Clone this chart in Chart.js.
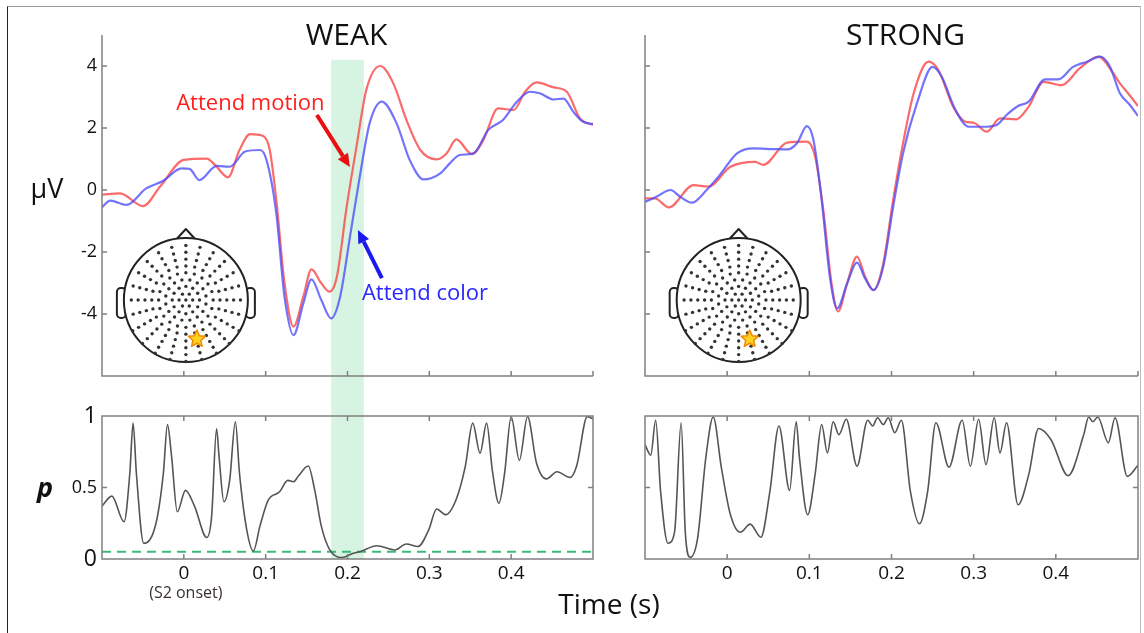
<!DOCTYPE html>
<html>
<head>
<meta charset="utf-8">
<title>Weak vs strong</title>
<script src="https://cdn.jsdelivr.net/npm/chart.js@4.4.0/dist/chart.umd.min.js"></script>
<style>
  body { margin: 0; background: #fff; }
  #fig { position: relative; width: 1144px; height: 633px; overflow: hidden; }
  #fig canvas { position: absolute; left: 0; top: 0; }
  #frame { position: absolute; left: 7px; top: 6px; width: 1132px; height: 640px;
           border-top: 1.5px solid #9a9a9a; border-left: 1.5px solid #222; border-right: 1.5px solid #bbb; }
</style>
</head>
<body>
<div id="fig">
  <div id="frame"></div>
  <canvas id="pWeak" width="1144" height="633"></canvas>
  <canvas id="pStrong" width="1144" height="633"></canvas>
  <canvas id="erpWeak" width="1144" height="633"></canvas>
  <canvas id="erpStrong" width="1144" height="633"></canvas>
</div>
<script>
// ---- data (time in s) ----
var weakMotionT = [-0.1, -0.078, -0.05, -0.029, 0.0, 0.028, 0.038, 0.054, 0.068, 0.081, 0.097, 0.105, 0.113, 0.123, 0.134, 0.146, 0.156, 0.168, 0.178, 0.187, 0.199, 0.211, 0.223, 0.24, 0.256, 0.272, 0.289, 0.309, 0.321, 0.333, 0.352, 0.366, 0.384, 0.403, 0.417, 0.431, 0.452, 0.468, 0.484, 0.5];
var weakMotionV = [-0.15, -0.11, -0.52, 0.11, 0.97, 1.01, 0.81, 0.41, 1.29, 1.80, 1.74, 1.29, -0.32, -3.0, -4.41, -3.44, -2.56, -3.01, -3.28, -2.80, -0.54, 1.40, 3.23, 4.0, 3.44, 2.26, 1.29, 0.99, 1.18, 1.63, 1.16, 1.61, 2.63, 2.58, 3.17, 3.47, 3.31, 3.17, 2.31, 2.10];

var weakColorT = [-0.1, -0.09, -0.07, -0.046, -0.025, -0.003, 0.007, 0.019, 0.04, 0.056, 0.075, 0.093, 0.101, 0.113, 0.123, 0.134, 0.146, 0.156, 0.168, 0.18, 0.191, 0.203, 0.215, 0.227, 0.242, 0.26, 0.276, 0.293, 0.313, 0.325, 0.337, 0.354, 0.372, 0.39, 0.407, 0.423, 0.435, 0.452, 0.464, 0.476, 0.488, 0.5];
var weakColorV = [-0.56, -0.34, -0.48, 0.05, 0.30, 0.70, 0.68, 0.32, 0.78, 0.75, 1.24, 1.29, 0.97, -0.75, -3.44, -4.68, -3.66, -2.88, -3.55, -4.14, -3.44, -1.51, 0.43, 2.15, 2.85, 2.15, 0.97, 0.34, 0.53, 0.86, 1.13, 1.18, 1.94, 2.26, 2.85, 3.17, 3.12, 2.92, 2.95, 2.52, 2.20, 2.13];

var strongMotionT = [-0.1, -0.088, -0.071, -0.041, -0.023, 0.004, 0.034, 0.044, 0.073, 0.097, 0.107, 0.117, 0.127, 0.135, 0.146, 0.158, 0.168, 0.178, 0.19, 0.202, 0.214, 0.227, 0.245, 0.257, 0.275, 0.29, 0.30, 0.316, 0.332, 0.352, 0.367, 0.385, 0.407, 0.429, 0.452, 0.47, 0.478, 0.49, 0.5];
var strongMotionV = [-0.27, -0.27, -0.56, 0.16, 0.11, 0.75, 0.91, 0.81, 1.53, 1.56, 1.08, -0.65, -3.01, -3.92, -3.01, -2.15, -2.8, -3.23, -2.37, -0.32, 1.5, 3.12, 4.14, 3.87, 2.69, 2.2, 2.17, 1.88, 2.31, 2.28, 2.69, 3.49, 3.38, 3.92, 4.30, 3.76, 3.44, 3.05, 2.71];

var strongColorT = [-0.1, -0.086, -0.069, -0.057, -0.043, -0.025, -0.009, 0.012, 0.032, 0.056, 0.073, 0.085, 0.097, 0.105, 0.115, 0.125, 0.134, 0.146, 0.158, 0.168, 0.178, 0.19, 0.202, 0.214, 0.231, 0.25, 0.261, 0.277, 0.294, 0.312, 0.328, 0.34, 0.354, 0.367, 0.387, 0.403, 0.421, 0.438, 0.454, 0.466, 0.478, 0.49, 0.5];
var strongColorV = [-0.38, -0.22, 0.0, -0.22, -0.41, 0.0, 0.48, 1.18, 1.34, 1.32, 1.31, 1.51, 2.06, 1.61, -0.32, -2.8, -3.82, -3.01, -2.34, -2.86, -3.23, -2.47, -0.54, 1.18, 2.8, 3.97, 3.66, 2.63, 2.04, 2.04, 2.1, 2.42, 2.71, 2.85, 3.57, 3.57, 3.97, 4.14, 4.3, 3.97, 3.12, 2.75, 2.39];

var weakPT = [-0.1, -0.088, -0.073, -0.066, -0.062, -0.058, -0.049, -0.034, -0.025, -0.02, -0.015, -0.008, 0.002, 0.013, 0.028, 0.034, 0.04, 0.043, 0.049, 0.056, 0.063, 0.068, 0.077, 0.085, 0.093, 0.103, 0.117, 0.127, 0.134, 0.14, 0.152, 0.16, 0.168, 0.178, 0.193, 0.207, 0.215, 0.236, 0.258, 0.272, 0.286, 0.299, 0.309, 0.32, 0.333, 0.344, 0.353, 0.362, 0.37, 0.377, 0.385, 0.392, 0.40, 0.41, 0.42, 0.431, 0.443, 0.456, 0.472, 0.48, 0.493, 0.5];
var weakP = [0.37, 0.44, 0.26, 0.60, 0.95, 0.60, 0.11, 0.25, 0.60, 0.94, 0.72, 0.33, 0.48, 0.37, 0.15, 0.30, 0.91, 0.72, 0.40, 0.55, 0.96, 0.60, 0.20, 0.056, 0.23, 0.41, 0.47, 0.55, 0.54, 0.58, 0.65, 0.48, 0.23, 0.068, 0.01, 0.04, 0.05, 0.093, 0.063, 0.105, 0.087, 0.20, 0.35, 0.31, 0.42, 0.65, 0.95, 0.74, 0.95, 0.62, 0.39, 0.60, 0.995, 0.69, 0.995, 0.67, 0.56, 0.61, 0.57, 0.65, 0.995, 0.98];

var strongPT = [-0.1, -0.093, -0.087, -0.081, -0.072, -0.064, -0.056, -0.051, -0.045, -0.036, -0.026, -0.017, -0.007, 0.004, 0.016, 0.028, 0.041, 0.052, 0.063, 0.076, 0.084, 0.088, 0.098, 0.107, 0.115, 0.122, 0.129, 0.136, 0.145, 0.158, 0.171, 0.177, 0.183, 0.19, 0.196, 0.204, 0.212, 0.223, 0.234, 0.244, 0.254, 0.27, 0.286, 0.296, 0.306, 0.315, 0.325, 0.332, 0.34, 0.354, 0.367, 0.379, 0.394, 0.415, 0.434, 0.44, 0.445, 0.451, 0.464, 0.472, 0.487, 0.5];
var strongP = [0.80, 0.726, 0.97, 0.473, 0.11, 0.19, 0.953, 0.19, 0.012, 0.145, 0.707, 0.993, 0.637, 0.309, 0.187, 0.244, 0.152, 0.473, 0.93, 0.48, 0.96, 0.707, 0.309, 0.59, 0.94, 0.742, 0.96, 0.87, 0.977, 0.649, 0.97, 0.93, 0.988, 0.94, 0.988, 0.883, 0.97, 0.473, 0.246, 0.473, 0.953, 0.642, 0.97, 0.649, 0.977, 0.66, 0.988, 0.742, 0.953, 0.379, 0.59, 0.913, 0.836, 0.583, 0.87, 0.993, 0.96, 0.993, 0.813, 0.988, 0.578, 0.656];

var xLabelTicks = [0, 0.1, 0.2, 0.3, 0.4];
var xTopTicks = [0, 0.1, 0.2, 0.3, 0.4, 0.5];
var erpTicks = [-4, -2, 0, 2, 4];
var pTicks = [0, 0.5, 1];
var alphaLevel = 0.05;
var sigWindow = [0.18, 0.22];   // shaded window (s)
var sigWindowTop = 4.2;         // top of shading, in µV of the upper panel

// ---- styling ----
var W = 1144, H = 633;
var axisGray = '#808080';
var red = 'rgba(250,70,70,0.8)';
var blue = 'rgba(80,80,250,0.8)';

Chart.defaults.font.family = '"Open Sans", sans-serif';
Chart.defaults.color = '#111';
Chart.defaults.animation = false;

function toXY(ts, vs) {
  return ts.map(function (t, i) { return { x: t, y: vs[i] }; });
}

function lineSet(data, color, width) {
  return { data: data, borderColor: color, borderWidth: width, pointRadius: 0,
           cubicInterpolationMode: 'monotone', fill: false };
}

// matlab style axis lines with inward ticks
var framePlugin = {
  id: 'frame',
  afterDatasetsDraw: function (chart, args, o) {
    var ctx = chart.ctx, a = chart.chartArea, x = chart.scales.x, y = chart.scales.y;
    ctx.save();
    ctx.strokeStyle = axisGray;
    ctx.lineWidth = 1.5;
    ctx.beginPath();
    if (o.box) {
      ctx.rect(a.left, a.top, a.right - a.left, a.bottom - a.top);
    } else {
      ctx.moveTo(a.left, a.top); ctx.lineTo(a.left, a.bottom); ctx.lineTo(a.right, a.bottom);
    }
    ctx.stroke();
    ctx.beginPath();
    var L = 5;
    o.xTicks.forEach(function (v) {
      var px = x.getPixelForValue(v);
      ctx.moveTo(px, a.bottom); ctx.lineTo(px, a.bottom - L);
      if (o.box) { ctx.moveTo(px, a.top); ctx.lineTo(px, a.top + L); }
    });
    o.yTicks.forEach(function (v) {
      var py = y.getPixelForValue(v);
      ctx.moveTo(a.left, py); ctx.lineTo(a.left + L, py);
      if (o.box) { ctx.moveTo(a.right, py); ctx.lineTo(a.right - L, py); }
    });
    ctx.stroke();
    ctx.restore();
  }
};

// shaded window, drawn on the lower canvas so it sits under the upper curves
var bandPlugin = {
  id: 'band',
  beforeDatasetsDraw: function (chart, args, o) {
    if (!o.upper) return;
    var up = o.upper();
    var ctx = chart.ctx, x = chart.scales.x;
    var x0 = x.getPixelForValue(sigWindow[0]), x1 = x.getPixelForValue(sigWindow[1]);
    var yTop = up.scales.y.getPixelForValue(sigWindowTop);
    ctx.save();
    ctx.fillStyle = 'rgba(140,220,170,0.35)';
    ctx.fillRect(x0, yTop, x1 - x0, chart.chartArea.bottom - yTop);
    ctx.restore();
  }
};

function drawStar(ctx, cx, cy, R, r) {
  ctx.beginPath();
  for (var i = 0; i < 10; i++) {
    var ang = -Math.PI / 2 + i * Math.PI / 5;
    var rr = i % 2 ? r : R;
    ctx.lineTo(cx + rr * Math.cos(ang), cy + rr * Math.sin(ang));
  }
  ctx.closePath();
  ctx.fillStyle = '#ffd21f';
  ctx.fill();
  ctx.strokeStyle = '#f08a00';
  ctx.lineWidth = 1.5;
  ctx.stroke();
}

// scalp map with electrode dots
var headPlugin = {
  id: 'head',
  afterDatasetsDraw: function (chart, args, o) {
    if (!o.show) return;
    var ctx = chart.ctx;
    var cx = chart.scales.x.getPixelForValue(o.t), cy = chart.scales.y.getPixelForValue(o.v);
    var R = 62;
    ctx.save();
    ctx.strokeStyle = '#222';
    ctx.lineWidth = 2;
    ctx.lineJoin = 'round';
    // nose
    ctx.beginPath();
    ctx.moveTo(cx - 12, cy - R + 4); ctx.lineTo(cx, cy - R - 9); ctx.lineTo(cx + 12, cy - R + 4);
    ctx.stroke();
    // ears
    ctx.beginPath();
    ctx.roundRect(cx - R - 7, cy - 12, 9, 30, 4);
    ctx.roundRect(cx + R - 2, cy - 12, 9, 30, 4);
    ctx.stroke();
    ctx.beginPath();
    ctx.arc(cx, cy, R, 0, Math.PI * 2);
    ctx.fillStyle = '#fff';
    ctx.fill();
    ctx.stroke();
    // electrodes on spokes
    var rings = [[0, 1], [0.11, 6], [0.22, 12], [0.33, 16], [0.44, 20], [0.55, 24], [0.66, 24], [0.77, 24], [0.88, 24], [0.99, 24]];
    ctx.fillStyle = '#333';
    rings.forEach(function (rg, k) {
      for (var i = 0; i < rg[1]; i++) {
        var ang = -Math.PI / 2 + (i + (k < 5 && k % 2 ? 0.5 : 0)) * 2 * Math.PI / rg[1];
        var dx = rg[0] * R * Math.cos(ang), dy = rg[0] * R * Math.sin(ang);
        if (k === 9 && dy < 0.45 * R) continue;
        ctx.beginPath();
        ctx.arc(cx + dx, cy + dy, 1.7, 0, Math.PI * 2);
        ctx.fill();
      }
    });
    drawStar(ctx, cx + 11, cy + 39, 9, 4.2);
    ctx.restore();
  }
};

// titles, axis names, annotations
var textPlugin = {
  id: 'texts',
  afterDraw: function (chart, args, o) {
    var ctx = chart.ctx, a = chart.chartArea, x = chart.scales.x, y = chart.scales.y;
    ctx.save();
    if (o.title) {
      ctx.font = '30px "Open Sans"';
      ctx.fillStyle = '#111';
      ctx.textAlign = 'center';
      ctx.fillText(o.title, (a.left + a.right) / 2 + o.titleDx, a.top + 10);
    }
    (o.items || []).forEach(function (it) {
      ctx.font = it.font;
      ctx.fillStyle = it.color || '#111';
      ctx.textAlign = it.align || 'center';
      var px = it.t !== undefined ? x.getPixelForValue(it.t) : a.left;
      var py = it.v !== undefined ? y.getPixelForValue(it.v) : a.bottom;
      ctx.fillText(it.text, px + (it.dx || 0), py + (it.dy || 0));
    });
    (o.arrows || []).forEach(function (ar) {
      var x0 = x.getPixelForValue(ar.from[0]), y0 = y.getPixelForValue(ar.from[1]);
      var x1 = x.getPixelForValue(ar.to[0]), y1 = y.getPixelForValue(ar.to[1]);
      var ang = Math.atan2(y1 - y0, x1 - x0);
      var hl = 13, hw = 6;
      var bx = x1 - hl * Math.cos(ang), by = y1 - hl * Math.sin(ang);
      ctx.strokeStyle = ar.color; ctx.fillStyle = ar.color;
      ctx.lineWidth = 4;
      ctx.beginPath(); ctx.moveTo(x0, y0); ctx.lineTo(bx, by); ctx.stroke();
      ctx.beginPath();
      ctx.moveTo(x1, y1);
      ctx.lineTo(bx + hw * Math.sin(ang), by - hw * Math.cos(ang));
      ctx.lineTo(bx - hw * Math.sin(ang), by + hw * Math.cos(ang));
      ctx.closePath(); ctx.fill();
    });
    ctx.restore();
  }
};

Chart.register(framePlugin, bandPlugin, headPlugin, textPlugin);

function scales(yMin, yMax, yTicks, yWidth, xHeight, yFont) {
  return {
    x: {
      type: 'linear', min: -0.1, max: 0.5,
      grid: { display: false, drawTicks: false }, border: { display: false },
      afterBuildTicks: function (s) { s.ticks = xLabelTicks.map(function (v) { return { value: v }; }); },
      afterFit: function (s) { s.height = xHeight; },
      ticks: { display: xHeight > 0, padding: 3, font: { size: 19 }, color: '#111',
               callback: function (v) { return String(v); } }
    },
    y: {
      type: 'linear', min: yMin, max: yMax,
      grid: { display: false, drawTicks: false }, border: { display: false },
      afterBuildTicks: function (s) { s.ticks = yTicks.map(function (v) { return { value: v }; }); },
      afterFit: function (s) { s.width = yWidth; },
      ticks: { display: yWidth > 0, padding: 5, font: yFont, color: '#111',
               callback: function (v) { return String(v); } }
    }
  };
}

function pad(area, yWidth, xHeight) {
  return { left: area.left - yWidth, top: area.top, right: W - area.right, bottom: H - area.bottom - xHeight };
}

var areaTL = { left: 102, top: 35, right: 593, bottom: 376 };
var areaTR = { left: 645, top: 35, right: 1138, bottom: 376 };
var areaBL = { left: 102, top: 416, right: 593, bottom: 559 };
var areaBR = { left: 645, top: 416, right: 1138, bottom: 559 };

var erpWeak = new Chart(document.getElementById('erpWeak'), {
  type: 'line',
  data: { datasets: [
    lineSet(toXY(weakColorT, weakColorV), blue, 2.2),
    lineSet(toXY(weakMotionT, weakMotionV), red, 2.2)
  ] },
  options: {
    responsive: false, layout: { padding: pad(areaTL, 60, 0) },
    scales: scales(-6, 5, erpTicks, 60, 0, { size: 18 }),
    plugins: {
      legend: { display: false }, tooltip: { enabled: false },
      frame: { box: false, xTicks: xTopTicks, yTicks: erpTicks },
      head: { show: true, t: 0.0025, v: -3.55 },
      texts: {
        title: 'WEAK', titleDx: -1,
        items: [
          { text: 'µV', font: '27px "Open Sans"', t: -0.1, v: 0, dx: -55, dy: 8 },
          { text: 'Attend motion', font: '22px "Open Sans"', color: '#ff1e1e', t: 0.0813, v: 2.84, dy: 8 },
          { text: 'Attend color', font: '22px "Open Sans"', color: '#2828ff', t: 0.2176, v: -3.29, dy: 8, align: 'left' }
        ],
        arrows: [
          { from: [0.1626, 2.42], to: [0.2029, 0.74], color: '#e81010' },
          { from: [0.242, -2.84], to: [0.2127, -1.29], color: '#1a1aee' }
        ]
      }
    }
  }
});

var erpStrong = new Chart(document.getElementById('erpStrong'), {
  type: 'line',
  data: { datasets: [
    lineSet(toXY(strongColorT, strongColorV), blue, 2.2),
    lineSet(toXY(strongMotionT, strongMotionV), red, 2.2)
  ] },
  options: {
    responsive: false, layout: { padding: pad(areaTR, 0, 0) },
    scales: scales(-6, 5, erpTicks, 0, 0, { size: 18 }),
    plugins: {
      legend: { display: false }, tooltip: { enabled: false },
      frame: { box: false, xTicks: xTopTicks, yTicks: erpTicks },
      head: { show: true, t: 0.014, v: -3.55 },
      texts: { title: 'STRONG', titleDx: 14 }
    }
  }
});

new Chart(document.getElementById('pWeak'), {
  type: 'line',
  data: { datasets: [
    lineSet(toXY(weakPT, weakP), '#555', 1.6),
    Object.assign(lineSet([{ x: -0.1, y: alphaLevel }, { x: 0.5, y: alphaLevel }], '#3cb878', 2), { borderDash: [9, 6] })
  ] },
  options: {
    responsive: false, layout: { padding: pad(areaBL, 60, 30) },
    scales: scales(0, 1, pTicks, 60, 30, function (c) {
      return { size: c.tick && c.tick.value === 0.5 ? 18 : 23 };
    }),
    plugins: {
      legend: { display: false }, tooltip: { enabled: false },
      frame: { box: true, xTicks: xLabelTicks, yTicks: [0.5] },
      band: { upper: function () { return erpWeak; } },
      texts: {
        items: [
          { text: 'p', font: 'italic bold 27px "Open Sans"', t: -0.1, v: 0.5, dx: -57, dy: 9 },
          { text: '(S2 onset)', font: '16px "Open Sans"', color: '#3a3030', t: 0, dx: 2, dy: 39 }
        ]
      }
    }
  }
});

new Chart(document.getElementById('pStrong'), {
  type: 'line',
  data: { datasets: [ lineSet(toXY(strongPT, strongP), '#555', 1.6) ] },
  options: {
    responsive: false, layout: { padding: pad(areaBR, 0, 30) },
    scales: scales(0, 1, pTicks, 0, 30, { size: 19 }),
    plugins: {
      legend: { display: false }, tooltip: { enabled: false },
      frame: { box: true, xTicks: xLabelTicks, yTicks: [0.5] },
      texts: {
        items: [
          { text: 'Time (s)', font: '28px "Open Sans"', t: -0.1, dx: -36, dy: 55 }
        ]
      }
    }
  }
});
</script>
</body>
</html>
